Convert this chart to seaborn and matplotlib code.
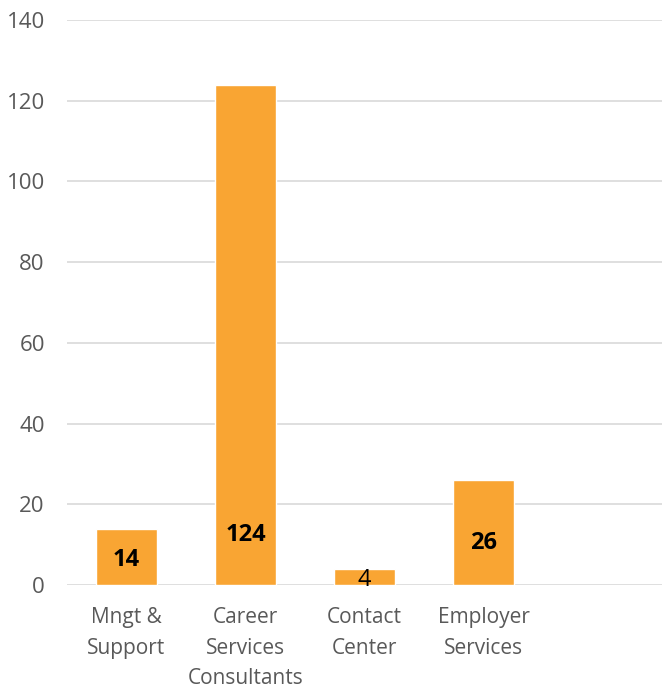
import matplotlib
matplotlib.use("Agg")
import matplotlib.pyplot as plt
import seaborn as sns
import pandas as pd

categories = ["Mngt &\nSupport", "Career\nServices\nConsultants", "Contact\nCenter", "Employer\nServices"]
values = [14, 124, 4, 26]
label_y = [6.2, 12.4, 1.2, 10.4]
label_bold = [True, True, False, True]

data = pd.DataFrame({"Category": categories, "Count": values})

sns.set_style("white")
plt.rcParams["font.family"] = ["Open Sans", "DejaVu Sans"]

fig = plt.figure(figsize=(6.63, 6.93), dpi=100)
ax = fig.add_axes([67/663, 1-585/693, 595/663, 565/693])

sns.barplot(x="Category", y="Count", data=data, color="#F9A533", width=0.52,
            saturation=1, ax=ax, zorder=3)

for i, (v, ly, b) in enumerate(zip(values, label_y, label_bold)):
    ax.text(i, ly, str(v), ha="center", va="center", fontsize=17,
            fontweight="bold" if b else "normal", color="black", zorder=4)

ax.set_xlim(-0.5, 4.5)
ax.set_ylim(0, 140)
ax.set_yticks(range(0, 141, 20))
ax.yaxis.grid(True, color="#d9d9d9", linewidth=1.2, zorder=0)
ax.set_axisbelow(True)
for s in ax.spines.values():
    s.set_visible(False)
ax.set_xlabel("")
ax.set_ylabel("")
ax.tick_params(axis="both", length=0, colors="#595959")
ax.tick_params(axis="y", pad=16, labelsize=16)
ax.tick_params(axis="x", pad=16, labelsize=15)
for t in ax.get_xticklabels():
    t.set_linespacing(1.6)

fig.savefig("out.png", dpi=100)
